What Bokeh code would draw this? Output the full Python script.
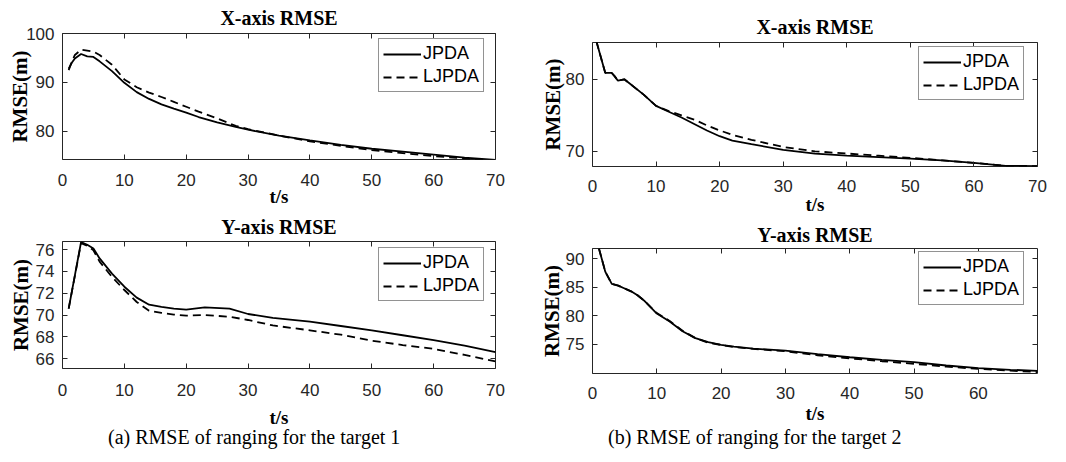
from bokeh.plotting import figure
from bokeh.models import Range1d, FixedTicker, LinearAxis, Div, CustomLabelingPolicy
from bokeh.layouts import column, row
from bokeh.embed import file_html
from bokeh.resources import INLINE

# ---------------- data ----------------
# (a) target 1, X-axis RMSE
t_x1 = [1, 1.5, 2, 3, 4, 5, 6, 8, 10, 12, 14, 16, 18, 20, 22, 25, 28, 30, 35, 40, 45, 50, 55, 60, 65, 70]
jpda_x1 = [92.8, 94.0, 94.9, 95.8, 95.3, 95.2, 94.3, 92.3, 89.9, 88.0, 86.6, 85.5, 84.6, 83.8, 82.9, 81.8,
           80.9, 80.3, 79.1, 78.1, 77.2, 76.4, 75.8, 75.2, 74.6, 74.1]
ljpda_x1 = [92.5, 94.2, 95.6, 96.7, 96.5, 96.3, 95.6, 93.6, 90.6, 89.0, 87.9, 87.0, 86.0, 85.0, 84.0, 82.6,
            81.1, 80.4, 79.1, 77.9, 77.0, 76.1, 75.5, 74.9, 74.4, 73.9]

# (b) target 2, X-axis RMSE
t_x2 = [0.6, 2, 3, 3.5, 4, 5, 6, 8, 10, 12, 14, 16, 18, 20, 22, 25, 30, 35, 40, 45, 50, 55, 60, 65, 70]
jpda_x2 = [85.3, 80.9, 80.9, 80.4, 79.8, 80.0, 79.3, 77.9, 76.3, 75.5, 74.7, 73.8, 72.9, 72.1, 71.5, 71.0,
           70.2, 69.7, 69.4, 69.2, 69.0, 68.75, 68.4, 68.0, 67.95]
ljpda_x2 = [85.3, 80.9, 80.9, 80.4, 79.8, 80.0, 79.3, 77.9, 76.3, 75.6, 75.0, 74.4, 73.6, 72.9, 72.3, 71.6,
            70.6, 70.0, 69.7, 69.4, 69.1, 68.75, 68.4, 68.0, 67.95]

# (a) target 1, Y-axis RMSE
t_y1 = [1, 3, 4, 5, 6, 8, 10, 12, 14, 16, 18, 20, 23, 27, 30, 34, 40, 45, 50, 55, 60, 65, 70]
jpda_y1 = [70.6, 76.7, 76.45, 76.1, 75.2, 73.8, 72.6, 71.6, 70.95, 70.75, 70.6, 70.5, 70.7, 70.6, 70.1,
           69.75, 69.4, 69.0, 68.6, 68.15, 67.7, 67.2, 66.6]
ljpda_y1 = [70.6, 76.6, 76.35, 75.95, 74.9, 73.5, 72.3, 71.2, 70.4, 70.2, 70.05, 69.95, 70.0, 69.85, 69.55,
            69.05, 68.6, 68.2, 67.65, 67.25, 66.9, 66.35, 65.75]

# (b) target 2, Y-axis RMSE
t_y2 = [1, 2, 3, 4, 5, 6, 7, 8, 10, 12, 14, 16, 18, 20, 22, 25, 30, 35, 40, 45, 50, 55, 60, 65, 69.2]
jpda_y2 = [91.8, 87.7, 85.6, 85.3, 84.8, 84.3, 83.6, 82.7, 80.4, 79.0, 77.3, 76.1, 75.4, 74.9, 74.6, 74.25,
           73.9, 73.3, 72.75, 72.3, 71.9, 71.3, 70.85, 70.55, 70.35]
ljpda_y2 = [91.8, 87.7, 85.6, 85.3, 84.8, 84.3, 83.6, 82.7, 80.5, 79.1, 77.4, 76.1, 75.3, 74.9, 74.55, 74.2,
            73.8, 73.1, 72.55, 72.05, 71.6, 71.1, 70.7, 70.4, 70.15]

x_ticks = [0, 10, 20, 30, 40, 50, 60, 70]
y_ticks_x1 = [80, 90, 100]
y_ticks_x2 = [70, 80]
y_ticks_y1 = [66, 68, 70, 72, 74, 76]
y_ticks_y2 = [75, 80, 85, 90]

titles = ["X-axis RMSE", "Y-axis RMSE"]
series_names = ["JPDA", "LJPDA"]
captions = ["(a) RMSE of ranging for the target 1", "(b) RMSE of ranging for the target 2"]

INK = "#262626"


def tick_only_axis(ticks):
    # mirror axis (MATLAB "box on"): inward ticks, no labels
    return LinearAxis(ticker=FixedTicker(ticks=ticks), major_tick_in=5, major_tick_out=0,
                      major_tick_line_color=INK, minor_tick_line_color=None, axis_line_color=None,
                      major_label_text_font_size="0px", major_label_standoff=0,
                      major_label_policy=CustomLabelingPolicy(
                          code="return new indices.constructor(indices.size, 0)"))


def panel(title, t, jp, lj, xr, yr, yticks, fw, fh, borders, leg_xy, ylab_so, xtick_so, xlab_so, title_so):
    p = figure(frame_width=fw, frame_height=fh, x_range=Range1d(*xr), y_range=Range1d(*yr),
               output_backend="svg", toolbar_location=None,
               min_border_left=borders[0], min_border_right=borders[1],
               min_border_top=borders[2], min_border_bottom=borders[3],
               background_fill_color="white", border_fill_color="white")
    p.title.text = title
    p.title.text_font = "Liberation Serif"
    p.title.text_font_style = "bold"
    p.title.text_font_size = "20px"
    p.title.text_line_height = 1.0
    p.title.text_color = "black"
    p.title.align = "center"
    p.title.standoff = title_so

    p.line(t, jp, line_color="black", line_width=1.8, legend_label=series_names[0])
    p.line(t, lj, line_color="black", line_width=1.8, line_dash="8 5", legend_label=series_names[1])

    p.xgrid.visible = False
    p.ygrid.visible = False
    p.outline_line_color = INK
    p.outline_line_width = 1
    p.outline_line_alpha = 1

    xa = p.xaxis[0]
    ya = p.yaxis[0]
    xa.ticker = FixedTicker(ticks=x_ticks)
    ya.ticker = FixedTicker(ticks=yticks)
    for ax in (xa, ya):
        ax.major_tick_in = 5
        ax.major_tick_out = 0
        ax.minor_tick_line_color = None
        ax.axis_line_color = None
        ax.major_tick_line_color = INK
        ax.major_label_text_font = "Liberation Sans"
        ax.major_label_text_font_size = "17px"
        ax.major_label_text_color = INK
        ax.axis_label_text_font = "Liberation Serif"
        ax.axis_label_text_font_style = "bold"
        ax.axis_label_text_color = "black"
    xa.axis_label = "t/s"
    xa.axis_label_text_font_size = "19px"
    xa.major_label_standoff = xtick_so
    xa.axis_label_standoff = xlab_so
    ya.axis_label = "RMSE(m)"
    ya.axis_label_text_font_size = "21px"
    ya.major_label_standoff = 8
    ya.axis_label_standoff = ylab_so

    p.add_layout(tick_only_axis(x_ticks), "above")
    p.add_layout(tick_only_axis(yticks), "right")

    lg = p.legend[0]
    lg.location = leg_xy
    lg.border_line_color = INK
    lg.border_line_width = 1
    lg.background_fill_color = "white"
    lg.background_fill_alpha = 1
    lg.label_text_font = "Liberation Sans"
    lg.label_text_font_size = "18px"
    lg.label_text_color = "black"
    lg.glyph_width = 38
    lg.glyph_height = 20
    lg.label_height = 20
    lg.label_width = 56
    lg.label_standoff = 2
    lg.padding = 4
    lg.spacing = 2
    lg.margin = 0
    return p


#            borders: left, right, top, bottom
p1 = panel(titles[0], t_x1, jpda_x1, ljpda_x1, (0, 70), (74.2, 100), y_ticks_x1,
           433, 126, (62, 35, 33, 51), (316, 67), -9, 14, -3, 9)
p3 = panel(titles[1], t_y1, jpda_y1, ljpda_y1, (0, 70), (65.1, 76.75), y_ticks_y1,
           433, 127, (62, 35, 31, 63), (316, 67), 0, 15, 8, 7)
p2 = panel(titles[0], t_x2, jpda_x2, ljpda_x2, (0, 70), (67.9, 85.1), y_ticks_x2,
           445, 124, (62, 29, 42, 52), (326, 66), -2, 13, -1, 10)
p4 = panel(titles[1], t_y2, jpda_y2, ljpda_y2, (0, 69.2), (69.9, 91.8), y_ticks_y2,
           445, 125, (62, 29, 30, 58), (326, 68), -1, 13, 1, 6)

cap_style = {"font-family": "Liberation Serif", "font-size": "20px", "line-height": "12px",
             "color": "black", "margin": "0", "padding-top": "0px", "white-space": "nowrap"}
d1 = Div(text=captions[0], width=530, height=31, styles=dict(cap_style, **{"padding-left": "108px"}))
d2 = Div(text=captions[1], width=536, height=31, styles=dict(cap_style, **{"padding-left": "78px"}))

layout = column(row(column(p1, p3), column(p2, p4)), row(d1, d2))

with open("out.html", "w") as f:
    f.write(file_html(layout, INLINE))
